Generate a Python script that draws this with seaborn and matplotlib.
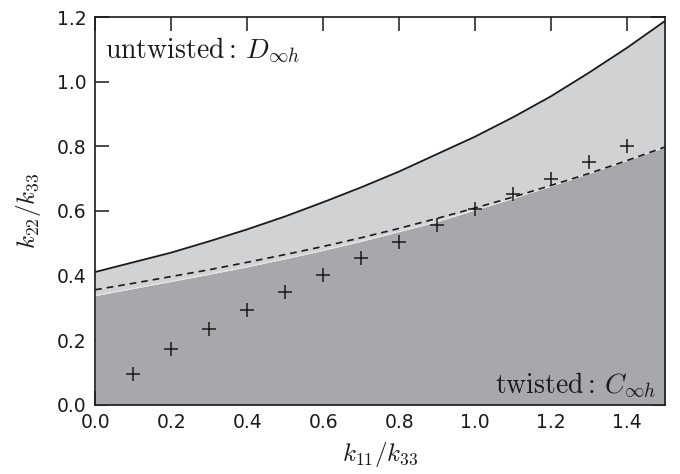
import numpy as np
import pandas as pd
import matplotlib
matplotlib.use('Agg')
import matplotlib.pyplot as plt
import seaborn as sns

# curve samples
k11 = [0.0, 0.1, 0.2, 0.3, 0.4, 0.5, 0.6, 0.7, 0.8, 0.9, 1.0, 1.1, 1.2, 1.3, 1.4, 1.5]
upper = [0.411, 0.441, 0.471, 0.506, 0.543, 0.583, 0.627, 0.673, 0.722, 0.776,
         0.830, 0.890, 0.955, 1.028, 1.105, 1.188]
dashed = [0.356, 0.376, 0.397, 0.418, 0.441, 0.465, 0.490, 0.517, 0.546, 0.577,
          0.609, 0.643, 0.679, 0.716, 0.756, 0.798]
lower = [0.338, 0.360, 0.382, 0.404, 0.427, 0.452, 0.478, 0.506, 0.536, 0.567,
         0.603, 0.639, 0.677, 0.716, 0.756, 0.798]

# simulation points
pts_x = [0.1, 0.2, 0.3, 0.4, 0.5, 0.6, 0.7, 0.8, 0.9, 1.0, 1.1, 1.2, 1.3, 1.4]
pts_y = [0.096, 0.172, 0.235, 0.293, 0.348, 0.403, 0.454, 0.505, 0.555, 0.605,
         0.652, 0.700, 0.750, 0.800]

df = pd.DataFrame({'k11': k11, 'upper': upper, 'dashed': dashed, 'lower': lower})
pts = pd.DataFrame({'x': pts_x, 'y': pts_y})

sns.set_style('ticks')
plt.rcParams['font.family'] = ['DejaVu Sans']
plt.rcParams['mathtext.fontset'] = 'cm'

fig, ax = plt.subplots(figsize=(6.8, 4.74), dpi=100)
fig.subplots_adjust(left=0.14, right=0.978, top=0.964, bottom=0.146)

ax.fill_between(df['k11'], 0, df['lower'], color='#a7a8ab', lw=0, zorder=1)
ax.fill_between(df['k11'], df['lower'], df['upper'], color='#d1d2d4', lw=0, zorder=1)
ax.plot(df['k11'], df['lower'], color='#e4e5e6', lw=0.8, zorder=2)

sns.lineplot(data=df, x='k11', y='upper', color='#1a1a1a', lw=1.3, ax=ax, zorder=3)
sns.lineplot(data=df, x='k11', y='dashed', color='#1a1a1a', lw=1.2, ax=ax,
             linestyle=(0, (4, 3)), zorder=3)
sns.scatterplot(data=pts, x='x', y='y', marker='+', s=100, color='#1a1a1a',
                linewidth=1.1, ax=ax, zorder=4)

ax.set_xlim(0, 1.5)
ax.set_ylim(0, 1.2)
ax.set_xticks([0.0, 0.2, 0.4, 0.6, 0.8, 1.0, 1.2, 1.4])
ax.set_yticks([0.0, 0.2, 0.4, 0.6, 0.8, 1.0, 1.2])
ax.set_xticklabels(['0.0', '0.2', '0.4', '0.6', '0.8', '1.0', '1.2', '1.4'])
ax.set_yticklabels(['0.0', '0.2', '0.4', '0.6', '0.8', '1.0', '1.2'])
ax.tick_params(direction='in', length=10, width=1.1, top=True, right=True,
               labelsize=13.5, colors='#1a1a1a', pad=6)
for s in ax.spines.values():
    s.set_linewidth(1.2)
    s.set_color('#1a1a1a')
    s.set_visible(True)
    s.set_zorder(5)

ax.set_xlabel(r'$k_{11}/k_{33}$', fontsize=18, color='#1a1a1a', labelpad=6)
ax.set_ylabel(r'$k_{22}/k_{33}$', fontsize=18, color='#1a1a1a', labelpad=10)

ax.text(0.018, 0.915, r'$\mathrm{untwisted}:\, D_{\infty h}$', transform=ax.transAxes,
        fontsize=20, color='#1a1a1a', ha='left', va='center')
ax.text(0.985, 0.05, r'$\mathrm{twisted}:\, C_{\infty h}$', transform=ax.transAxes,
        fontsize=20, color='#1a1a1a', ha='right', va='center')

fig.savefig('out.png', dpi=100)
